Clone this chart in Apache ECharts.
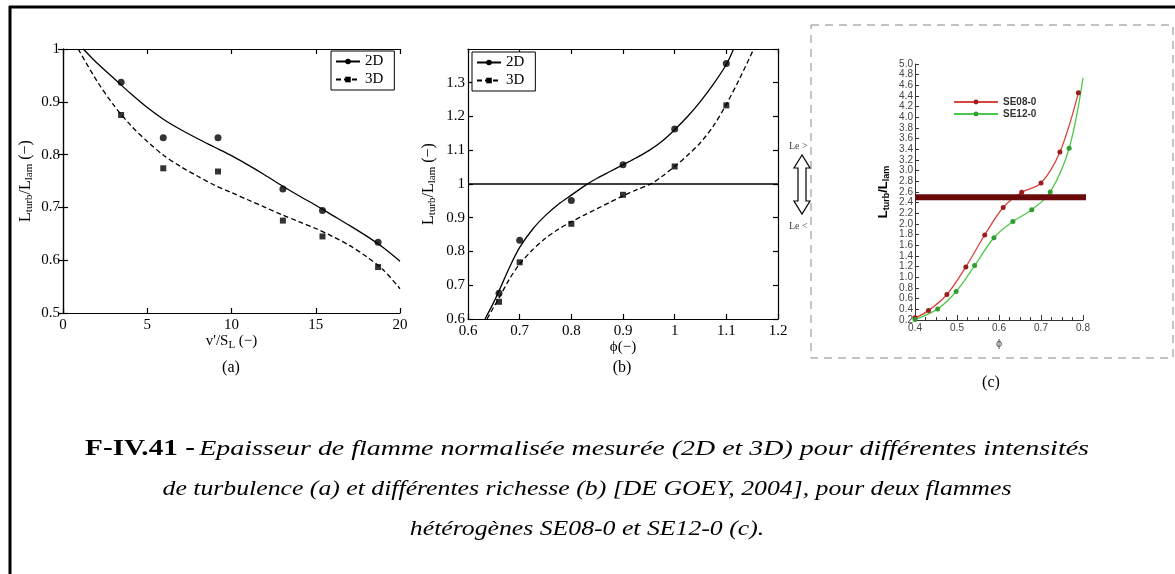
<!DOCTYPE html>
<html><head><meta charset="utf-8">
<script src="https://cdn.jsdelivr.net/npm/echarts@6/dist/echarts.min.js"></script>
<style>html,body{margin:0;padding:0;background:#fff}#c{width:1175px;height:574px}</style>
</head><body><div id="c"></div>
<script>
// ---------- Panel (a): L_turb/L_lam vs v'/S_L ----------
const aPtX   = [3.45, 5.95, 9.2, 13.05, 15.4, 18.7];
const aPt2D  = [0.937, 0.832, 0.832, 0.735, 0.694, 0.634];
const aPt3D  = [0.875, 0.774, 0.768, 0.675, 0.645, 0.587];
const aFit2DX = [1.2, 2, 3, 4, 5, 6, 7, 8, 9, 10, 11, 12, 13, 14, 15, 16, 17, 18, 19, 20];
const aFit2DY = [1.0, 0.974, 0.945, 0.916, 0.889, 0.866, 0.847, 0.83, 0.814, 0.798, 0.78, 0.761, 0.741, 0.722, 0.704, 0.685, 0.666, 0.646, 0.624, 0.598];
const aFit3DX = [0.9, 2, 3, 4, 5, 6, 7, 8, 9, 10, 11, 12, 13, 14, 15, 16, 17, 18, 19, 20];
const aFit3DY = [1.0, 0.94, 0.894, 0.856, 0.825, 0.798, 0.777, 0.759, 0.742, 0.728, 0.714, 0.7, 0.686, 0.673, 0.66, 0.645, 0.628, 0.607, 0.582, 0.546];

// ---------- Panel (b): L_turb/L_lam vs phi ----------
const bPtX   = [0.66, 0.70, 0.80, 0.90, 1.00, 1.10];
const bPt2D  = [0.676, 0.833, 0.951, 1.057, 1.163, 1.357];
const bPt3D  = [0.651, 0.768, 0.882, 0.968, 1.052, 1.233];
const bFit2DX = [0.633, 0.65, 0.66, 0.68, 0.7, 0.725, 0.75, 0.775, 0.8, 0.83, 0.85, 0.875, 0.9, 0.925, 0.95, 0.975, 1.0, 1.025, 1.05, 1.075, 1.1, 1.114];
const bFit2DY = [0.6, 0.65, 0.683, 0.752, 0.812, 0.866, 0.907, 0.94, 0.967, 0.999, 1.017, 1.037, 1.057, 1.077, 1.099, 1.126, 1.161, 1.2, 1.245, 1.296, 1.354, 1.4];
const bFit3DX = [0.637, 0.65, 0.66, 0.68, 0.7, 0.725, 0.75, 0.775, 0.8, 0.825, 0.85, 0.875, 0.9, 0.925, 0.956, 0.975, 1.0, 1.025, 1.05, 1.075, 1.1, 1.125, 1.153];
const bFit3DY = [0.6, 0.636, 0.662, 0.718, 0.763, 0.805, 0.839, 0.866, 0.888, 0.908, 0.927, 0.946, 0.965, 0.982, 1.002, 1.022, 1.052, 1.085, 1.123, 1.172, 1.236, 1.31, 1.4];
const bRefX = [0.6, 1.2];
const bRefY = [1, 1];

// ---------- Panel (c): SE08-0 / SE12-0 ----------
const cRedX   = [0.4, 0.432, 0.476, 0.521, 0.566, 0.610, 0.654, 0.700, 0.745, 0.789];
const cRedY   = [0.24, 0.376, 0.679, 1.195, 1.794, 2.31, 2.594, 2.77, 3.35, 4.46];
const cGreenX = [0.4, 0.454, 0.498, 0.542, 0.588, 0.633, 0.678, 0.722, 0.767, 0.8];
const cGreenY = [0.21, 0.408, 0.735, 1.22, 1.743, 2.046, 2.266, 2.60, 3.42, 4.74];
const cBandX = [0.4, 0.834];
const cBandY = [2.5, 2.5];

const zip = (xs, ys) => xs.map((x, i) => [x, ys[i]]);
const SERIF = 'Liberation Serif';
const SANS = 'Liberation Sans';

const frameAxis = {axisLine: {show: true, lineStyle: {color: '#000', width: 1.2}},
  axisTick: {show: true, inside: true, length: 5, lineStyle: {color: '#000', width: 1.2}},
  splitLine: {show: false}};
const tickLabel = {fontFamily: SERIF, fontSize: 15, color: '#000'};
function mirror(extra) {
  return Object.assign({type: 'value', axisLabel: {show: false}}, frameAxis, extra);
}

const blackLine = (name, data, xi, yi, dashed, sym) => ({
  type: 'line', name, data, xAxisIndex: xi, yAxisIndex: yi, smooth: 0.3,
  showSymbol: false, symbol: sym, symbolSize: 7, silent: true,
  lineStyle: {color: '#000', width: 1.3, type: dashed ? [5, 3] : 'solid'},
  itemStyle: {color: '#000'}, z: 3
});
const pts = (data, xi, yi, sym, size) => ({
  type: 'scatter', data, xAxisIndex: xi, yAxisIndex: yi, symbol: sym,
  symbolSize: size, itemStyle: {color: '#000'}, silent: true, z: 4
});

const subRich = (fs, lh, ff, bold) => ({
  m: {fontSize: fs, lineHeight: lh, fontFamily: ff, fontWeight: bold ? 'bold' : 'normal', color: '#000'},
  s: {fontSize: Math.round(fs * 0.7), lineHeight: Math.round(fs * 0.7), verticalAlign: 'bottom', fontFamily: ff, fontWeight: bold ? 'bold' : 'normal', color: '#000'}
});

const capScale = 1.17;
const chart = echarts.init(document.getElementById('c'), null, {renderer: 'canvas'});
const option = {
  animation: false,
  backgroundColor: '#fff',
  grid: [
    {left: 63, top: 49, width: 337, height: 264},
    {left: 468, top: 49, width: 310, height: 270},
    {left: 915, top: 64, width: 168, height: 256}
  ],
  xAxis: [
    Object.assign({type: 'value', gridIndex: 0, min: 0, max: 20, interval: 5,
      axisLabel: Object.assign({margin: 5}, tickLabel),
      name: "{m|v'/S}{s|L}{m| (−)}", nameLocation: 'middle', nameGap: 13,
      nameTextStyle: {rich: subRich(15, 18, SERIF, false)}}, frameAxis),
    mirror({gridIndex: 0, position: 'top', min: 0, max: 20, interval: 5}),
    Object.assign({type: 'value', gridIndex: 1, min: 0.6, max: 1.2, interval: 0.1,
      axisLabel: Object.assign({margin: 5}, tickLabel),
      name: 'ϕ(−)', nameLocation: 'middle', nameGap: 19,
      nameTextStyle: {fontFamily: SERIF, fontSize: 15, color: '#000'}}, frameAxis),
    mirror({gridIndex: 1, position: 'top', min: 0.6, max: 1.2, interval: 0.1}),
    {type: 'value', gridIndex: 2, min: 0.4, max: 0.8, interval: 0.1,
      axisLine: {show: true, lineStyle: {color: '#333', width: 1}},
      axisTick: {show: true, inside: true, length: 5, lineStyle: {color: '#333'}},
      minorTick: {show: true, splitNumber: 4, length: 3, lineStyle: {color: '#333'}},
      splitLine: {show: false},
      axisLabel: {fontFamily: SANS, fontSize: 10, color: '#444', margin: 3, formatter: v => v.toFixed(1)},
      name: 'ϕ', nameLocation: 'middle', nameGap: 18,
      nameTextStyle: {fontFamily: SANS, fontSize: 11, color: '#444'}}
  ],
  yAxis: [
    Object.assign({type: 'value', gridIndex: 0, min: 0.5, max: 1, interval: 0.1,
      axisLabel: Object.assign({margin: 3}, tickLabel),
      name: '{m|L}{s|turb}{m|/L}{s|lam}{m| (−)}', nameLocation: 'middle', nameGap: 28, nameRotate: 90,
      nameTextStyle: {rich: subRich(16, 19, SERIF, false)}}, frameAxis),
    mirror({gridIndex: 0, position: 'right', min: 0.5, max: 1, interval: 0.1}),
    Object.assign({type: 'value', gridIndex: 1, min: 0.6, max: 1.4, interval: 0.1,
      axisLabel: Object.assign({margin: 3, showMaxLabel: false}, tickLabel),
      name: '{m|L}{s|turb}{m|/L}{s|lam}{m| (−)}', nameLocation: 'middle', nameGap: 30, nameRotate: 90,
      nameTextStyle: {rich: subRich(16, 19, SERIF, false)}}, frameAxis),
    mirror({gridIndex: 1, position: 'right', min: 0.6, max: 1.4, interval: 0.1}),
    {type: 'value', gridIndex: 2, min: 0.2, max: 5.0, interval: 0.2,
      axisLine: {show: true, lineStyle: {color: '#333', width: 1}},
      axisTick: {show: true, inside: true, length: 4, lineStyle: {color: '#333'}},
      splitLine: {show: false},
      axisLabel: {fontFamily: SANS, fontSize: 10, color: '#444', margin: 2, formatter: v => v.toFixed(1)},
      name: '{m|L}{s|turb}{m|/L}{s|lam}', nameLocation: 'middle', nameGap: 24, nameRotate: 90,
      nameTextStyle: {rich: subRich(13, 16, SANS, true)}}
  ],
  legend: [
    {data: ['2D', '3D'], orient: 'vertical', left: 331, top: 51, itemGap: 3,
      itemWidth: 24, itemHeight: 7, padding: [3, 11, 3, 4],
      borderColor: '#000', borderWidth: 1, backgroundColor: '#fff', borderRadius: 0,
      textStyle: {fontFamily: SERIF, fontSize: 15, color: '#000'}},
    {data: ['2D', '3D'], orient: 'vertical', left: 472, top: 52, itemGap: 3,
      itemWidth: 24, itemHeight: 7, padding: [3, 11, 3, 4],
      borderColor: '#000', borderWidth: 1, backgroundColor: '#fff', borderRadius: 0,
      textStyle: {fontFamily: SERIF, fontSize: 15, color: '#000'}},
    {data: ['SE08-0', 'SE12-0'], orient: 'vertical', left: 948, top: 92, itemGap: 2,
      itemWidth: 44, itemHeight: 6,
      textStyle: {fontFamily: SANS, fontSize: 10, fontWeight: 'bold', color: '#333'}}
  ],
  series: [
    blackLine('2D', zip(aFit2DX, aFit2DY), 0, 0, false, 'circle'),
    pts(zip(aPtX, aPt2D), 0, 0, 'circle', 7),
    blackLine('3D', zip(aFit3DX, aFit3DY), 0, 0, true, 'rect'),
    pts(zip(aPtX, aPt3D), 0, 0, 'rect', 6),
    blackLine('2D', zip(bFit2DX, bFit2DY), 2, 2, false, 'circle'),
    pts(zip(bPtX, bPt2D), 2, 2, 'circle', 7),
    blackLine('3D', zip(bFit3DX, bFit3DY), 2, 2, true, 'rect'),
    pts(zip(bPtX, bPt3D), 2, 2, 'rect', 6),
    {type: 'line', data: zip(bRefX, bRefY), xAxisIndex: 2, yAxisIndex: 2, symbol: 'none', silent: true,
      lineStyle: {color: '#000', width: 1.3}, z: 3},
    {type: 'line', name: 'SE08-0', data: zip(cRedX, cRedY), xAxisIndex: 4, yAxisIndex: 4,
      smooth: 0.35, symbol: 'circle', symbolSize: 5, showSymbol: true, silent: true,
      lineStyle: {color: '#d6453f', width: 1.3}, itemStyle: {color: '#9c1c1c'}, z: 3},
    {type: 'line', name: 'SE12-0', xAxisIndex: 4, yAxisIndex: 4,
      data: zip(cGreenX, cGreenY).map((p, i, arr) => i === arr.length - 1 ? {value: p, symbol: 'none'} : p),
      smooth: 0.35, symbol: 'circle', symbolSize: 5, showSymbol: true, silent: true,
      lineStyle: {color: '#4cc84a', width: 1.3}, itemStyle: {color: '#2f9e2f'}, z: 3},
    {type: 'line', data: zip(cBandX, cBandY), xAxisIndex: 4, yAxisIndex: 4, symbol: 'none',
      clip: false, silent: true, lineStyle: {color: '#6a0a0a', width: 6}, z: 5}
  ],
  graphic: [
    {type: 'line', shape: {x1: 10, y1: 6, x2: 10, y2: 574}, style: {stroke: '#000', lineWidth: 3}},
    {type: 'line', shape: {x1: 9, y1: 7, x2: 1175, y2: 7}, style: {stroke: '#000', lineWidth: 3}},
    {type: 'rect', shape: {x: 811, y: 25, width: 362, height: 333},
      style: {fill: null, stroke: '#888', lineWidth: 1, lineDash: [8, 6]}},
    {type: 'polygon', shape: {points: [[802, 155], [794, 168], [798, 168], [798, 201], [794, 201], [802, 214], [810, 201], [806, 201], [806, 168], [810, 168]]},
      style: {fill: '#fff', stroke: '#000', lineWidth: 1.2}},
    {type: 'text', x: 789, y: 146, style: {text: 'Le >', font: '10px "Liberation Serif"', fill: '#444', textVerticalAlign: 'middle'}},
    {type: 'text', x: 789, y: 226, style: {text: 'Le <', font: '10px "Liberation Serif"', fill: '#444', textVerticalAlign: 'middle'}},
    {type: 'text', x: 231, y: 368, style: {text: '(a)', font: '16px "Liberation Serif"', fill: '#000', textAlign: 'center', textVerticalAlign: 'middle'}},
    {type: 'text', x: 622, y: 368, style: {text: '(b)', font: '16px "Liberation Serif"', fill: '#000', textAlign: 'center', textVerticalAlign: 'middle'}},
    {type: 'text', x: 991, y: 383, style: {text: '(c)', font: '16px "Liberation Serif"', fill: '#000', textAlign: 'center', textVerticalAlign: 'middle'}},
    {type: 'text', x: 587, y: 449, scaleX: 1.27, style: {text: '{b|F-IV.41 -} {i|Epaisseur de flamme normalisée mesurée (2D et 3D) pour différentes intensités}',
      textAlign: 'center', textVerticalAlign: 'middle',
      rich: {b: {font: 'bold 23px "Liberation Serif"', fill: '#000'}, i: {font: 'italic 22px "Liberation Serif"', fill: '#000'}}}},
    {type: 'text', x: 587, y: 489, scaleX: capScale, style: {text: 'de turbulence (a) et différentes richesse (b) [DE GOEY, 2004], pour deux flammes',
      textAlign: 'center', textVerticalAlign: 'middle', font: 'italic 22px "Liberation Serif"', fill: '#000'}},
    {type: 'text', x: 587, y: 529, scaleX: capScale, style: {text: 'hétérogènes SE08-0 et SE12-0 (c).',
      textAlign: 'center', textVerticalAlign: 'middle', font: 'italic 22px "Liberation Serif"', fill: '#000'}}
  ]
};
chart.setOption(option);
</script>
</body></html>
